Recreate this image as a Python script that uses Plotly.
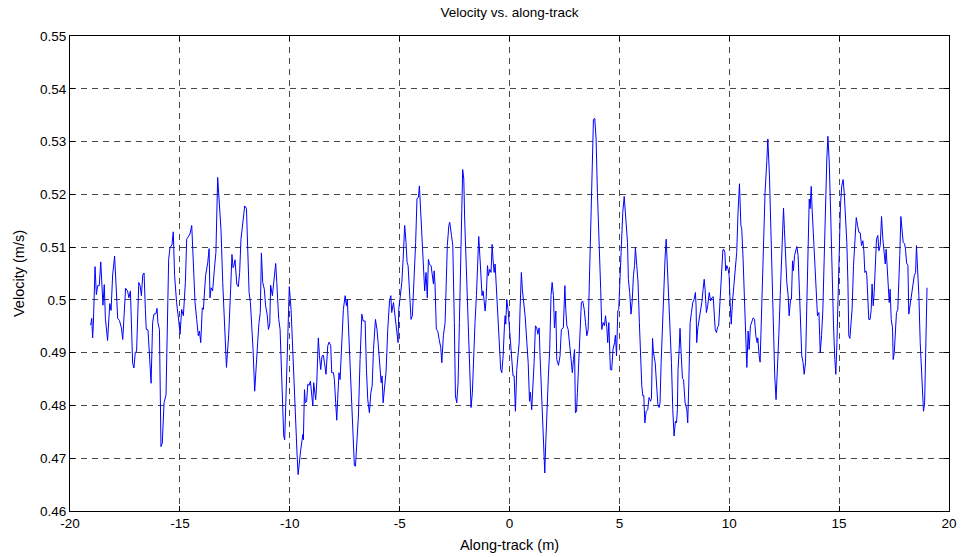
import plotly.graph_objects as go

# Along-track position (m)
distance = [
    -19.06, -19.01, -18.97, -18.94, -18.86, -18.80, -18.74, -18.67, -18.60, -18.56,
    -18.50, -18.44, -18.39, -18.29, -18.19, -18.13, -18.06, -17.97, -17.91, -17.83,
    -17.75, -17.66, -17.60, -17.47, -17.38, -17.32, -17.25, -17.15, -17.09, -17.03,
    -16.97, -16.87, -16.81, -16.75, -16.69, -16.63, -16.57, -16.53, -16.45, -16.39,
    -16.31, -16.24, -16.18, -16.09, -16.04, -16.00, -15.93, -15.86, -15.80, -15.72,
    -15.63, -15.51, -15.45, -15.36, -15.30, -15.24, -15.15, -15.05, -14.99, -14.92,
    -14.84, -14.75, -14.69,
    -14.645, -14.54, -14.46, -14.39, -14.31, -14.235, -14.16, -14.11, -14.05, -13.98,
    -13.93, -13.83, -13.73, -13.67, -13.63, -13.58, -13.51, -13.43, -13.36, -13.28,
    -13.20, -13.13, -13.05, -12.975, -12.93, -12.88, -12.84, -12.78, -12.69, -12.63,
    -12.58, -12.54, -12.49, -12.41, -12.34, -12.28, -12.22, -12.16, -12.10, -12.05,
    -11.97, -11.91, -11.85, -11.79, -11.73, -11.67, -11.595, -11.53, -11.46, -11.40,
    -11.34, -11.29, -11.23, -11.155, -11.10, -11.03, -10.97, -10.91, -10.87, -10.79,
    -10.73, -10.70, -10.64, -10.59, -10.50, -10.44, -10.34, -10.275, -10.23, -10.155,
    -10.08, -10.02, -9.94, -9.85, -9.76,
    -9.71, -9.67, -9.62, -9.56, -9.50, -9.44, -9.41, -9.38, -9.33, -9.29,
    -9.23, -9.18, -9.12, -9.06, -9.00, -8.95, -8.91, -8.86, -8.82, -8.77,
    -8.70, -8.65, -8.59, -8.53, -8.47, -8.42, -8.35, -8.27, -8.21, -8.135,
    -8.09, -8.01, -7.97, -7.91, -7.86, -7.82, -7.76, -7.71, -7.63, -7.56,
    -7.48, -7.42, -7.38, -7.32, -7.255, -7.18, -7.10, -7.06, -7.01, -6.95,
    -6.875, -6.80, -6.72, -6.66, -6.57, -6.51, -6.45, -6.375, -6.31, -6.25,
    -6.19, -6.10, -6.03, -5.98, -5.90, -5.84, -5.80, -5.75, -5.68, -5.62,
    -5.54, -5.46, -5.40, -5.36, -5.28, -5.21, -5.13, -5.07, -5.04, -4.98,
    -4.90, -4.84, -4.77, -4.71, -4.66, -4.615, -4.55, -4.48, -4.42, -4.36,
    -4.27, -4.21, -4.145, -4.10, -4.04, -3.98, -3.90, -3.86, -3.80, -3.74,
    -3.69, -3.64, -3.57, -3.51, -3.46, -3.43, -3.39, -3.33, -3.265, -3.20,
    -3.13, -3.08, -3.01, -2.93, -2.89, -2.83, -2.76, -2.72, -2.64, -2.58,
    -2.51, -2.46, -2.40, -2.34, -2.28, -2.22, -2.17, -2.13, -2.08, -2.04,
    -1.975, -1.915, -1.85, -1.79, -1.75, -1.69, -1.64, -1.57, -1.505, -1.44,
    -1.40, -1.34, -1.29, -1.25, -1.20, -1.16, -1.11, -1.065, -1.00, -0.96,
    -0.90, -0.84, -0.79, -0.75, -0.70, -0.655, -0.58, -0.52, -0.46, -0.40,
    -0.35, -0.29, -0.23, -0.20,
    -0.17, -0.125, -0.06, 0.00, 0.04, 0.10, 0.16, 0.21, 0.27, 0.33,
    0.38, 0.44, 0.48, 0.54, 0.59, 0.65, 0.71, 0.79, 0.85, 0.91,
    0.95, 1.01, 1.06, 1.12, 1.18, 1.24, 1.29, 1.35, 1.39, 1.45,
    1.50, 1.56, 1.605, 1.65, 1.71, 1.77, 1.83, 1.89, 1.94, 2.00,
    2.045, 2.11, 2.15, 2.23, 2.30, 2.36, 2.45, 2.52, 2.56, 2.61,
    2.67, 2.73, 2.80, 2.86, 2.91, 2.96, 3.00, 3.05, 3.09, 3.15,
    3.21, 3.27, 3.33, 3.40, 3.46, 3.52, 3.58, 3.64, 3.70, 3.76,
    3.82, 3.88, 3.94, 4.00, 4.06, 4.11, 4.15, 4.20, 4.26, 4.32,
    4.37, 4.43, 4.47, 4.52, 4.56,
    4.59, 4.65, 4.71, 4.78, 4.82, 4.87, 4.93, 4.97, 5.02, 5.06,
    5.11, 5.155, 5.22, 5.26, 5.31, 5.37, 5.41, 5.47, 5.53, 5.58,
    5.64, 5.69, 5.73, 5.79, 5.85, 5.91, 5.97, 6.02, 6.07, 6.11,
    6.16, 6.22, 6.29, 6.35, 6.42, 6.46, 6.51, 6.55, 6.63, 6.70,
    6.75, 6.81, 6.85, 6.90, 6.96, 7.02, 7.08, 7.13, 7.19, 7.25,
    7.31, 7.37, 7.43, 7.49, 7.55, 7.60, 7.64, 7.67, 7.72, 7.76,
    7.81, 7.87, 7.92, 7.99, 8.07, 8.11, 8.16, 8.22, 8.28, 8.34,
    8.40, 8.46, 8.49, 8.52, 8.57, 8.63, 8.69, 8.75, 8.81, 8.86,
    8.90, 8.96, 9.02, 9.09, 9.15, 9.21, 9.27, 9.36,
    9.42, 9.46, 9.52, 9.585, 9.66, 9.71, 9.75, 9.80, 9.84, 9.89,
    9.95, 9.995, 10.04, 10.09, 10.15, 10.21, 10.27, 10.34, 10.40, 10.465,
    10.53, 10.57, 10.63, 10.69, 10.75, 10.80, 10.86, 10.905, 10.965, 11.03,
    11.09, 11.15, 11.21, 11.27, 11.30, 11.36, 11.405, 11.45, 11.51, 11.57,
    11.63, 11.71, 11.755, 11.83, 11.89, 11.95, 12.01, 12.07, 12.13, 12.195,
    12.255, 12.32, 12.38, 12.42, 12.47, 12.51, 12.56, 12.62, 12.68, 12.725,
    12.79, 12.83, 12.88, 12.92, 12.97, 13.01, 13.075, 13.135, 13.20, 13.26,
    13.30, 13.36, 13.41, 13.47, 13.53, 13.59, 13.64, 13.68, 13.73, 13.77,
    13.83, 13.89, 13.955, 14.015, 14.08, 14.14,
    14.20, 14.26, 14.32, 14.38, 14.44, 14.49, 14.55, 14.61, 14.67, 14.745,
    14.805, 14.85, 14.90, 14.96, 15.00, 15.06, 15.12, 15.18, 15.23, 15.275,
    15.35, 15.40, 15.44, 15.49, 15.53, 15.59, 15.655, 15.715, 15.78, 15.84,
    15.90, 15.96, 16.02, 16.08, 16.125, 16.17, 16.22, 16.26, 16.31, 16.35,
    16.41, 16.46, 16.50, 16.55, 16.595, 16.64, 16.70, 16.76, 16.81, 16.87,
    16.93, 16.99, 17.05, 17.10, 17.14, 17.19, 17.23, 17.28, 17.32, 17.37,
    17.43, 17.46, 17.51, 17.55, 17.61, 17.67, 17.72, 17.76, 17.81, 17.855,
    17.915, 17.98, 18.02, 18.07, 18.13, 18.17, 18.22, 18.28, 18.355, 18.42,
    18.48, 18.52, 18.57, 18.63, 18.69, 18.75, 18.80, 18.84, 18.89, 18.95,
    19.00,
]

# Velocity (m/s)
velocity = [
    0.4952, 0.4965, 0.4928, 0.4951, 0.5063, 0.5010, 0.5027, 0.5027, 0.5072, 0.5027,
    0.4990, 0.5029, 0.4965, 0.4923, 0.4993, 0.4980, 0.5047, 0.5083, 0.5027, 0.4965,
    0.4961, 0.4947, 0.4925, 0.5022, 0.5017, 0.5004, 0.5017, 0.4880, 0.4871, 0.4901,
    0.4902, 0.5033, 0.5027, 0.5008, 0.5047, 0.5051, 0.4982, 0.4944, 0.4943, 0.4906,
    0.4842, 0.4957, 0.4973, 0.4974, 0.4984, 0.4957, 0.4944, 0.4722, 0.4729, 0.4805,
    0.4820, 0.5077, 0.5099, 0.5104, 0.5129, 0.5046, 0.4995, 0.4960, 0.4935, 0.4982,
    0.4970, 0.5033, 0.5115,
    0.5118, 0.5125, 0.5141, 0.5071, 0.4995, 0.4963, 0.4932, 0.4941, 0.4919, 0.4985,
    0.4982, 0.5046, 0.5071, 0.5097, 0.5004, 0.5023, 0.5017, 0.5058, 0.5090, 0.5232,
    0.5185, 0.5134, 0.5033, 0.4957, 0.4900, 0.4872, 0.4897, 0.4932, 0.5020, 0.5086,
    0.5061, 0.5065, 0.5076, 0.5030, 0.5025, 0.5052, 0.5115, 0.5134, 0.5161, 0.5178,
    0.5173, 0.5084, 0.5014, 0.4995, 0.4957, 0.4906, 0.4827, 0.4881, 0.4919, 0.4957,
    0.4976, 0.5089, 0.5033, 0.5020, 0.4989, 0.4973, 0.4944, 0.4954, 0.5028, 0.5008,
    0.5039, 0.5042, 0.5069, 0.5033, 0.4963, 0.4944, 0.4792, 0.4742, 0.4735, 0.4849,
    0.4970, 0.5025, 0.4982, 0.4881, 0.4805,
    0.4742, 0.4710, 0.4669, 0.4697, 0.4716, 0.4734, 0.4745, 0.4735, 0.4830, 0.4805,
    0.4808, 0.4840, 0.4838, 0.4846, 0.4818, 0.4799, 0.4843, 0.4830, 0.4811, 0.4843,
    0.4928, 0.4895, 0.4868, 0.4894, 0.4895, 0.4881, 0.4859, 0.4913, 0.4920, 0.4913,
    0.4862, 0.4862, 0.4849, 0.4805, 0.4772, 0.4811, 0.4862, 0.4849, 0.4932, 0.4982,
    0.5008, 0.4989, 0.5001, 0.4944, 0.4881, 0.4792, 0.4723, 0.4686, 0.4685, 0.4729,
    0.4780, 0.4887, 0.4973, 0.4960, 0.4960, 0.4868, 0.4811, 0.4786, 0.4824, 0.4837,
    0.4906, 0.4963, 0.4944, 0.4919, 0.4868, 0.4843, 0.4856, 0.4805, 0.4837, 0.4862,
    0.4944, 0.4998, 0.5008, 0.4976, 0.4995, 0.4966, 0.4932, 0.4919, 0.4982, 0.5004,
    0.5033, 0.5077, 0.5141, 0.5109, 0.5071, 0.5065, 0.5008, 0.4963, 0.4970, 0.5020,
    0.5109, 0.5192, 0.5194, 0.5216, 0.5160, 0.5103, 0.5033, 0.5017, 0.5052, 0.5004,
    0.5077, 0.5067, 0.5065, 0.5046, 0.5030, 0.5055, 0.5030, 0.4944, 0.4941, 0.4925,
    0.4910, 0.4881, 0.4932, 0.4957, 0.5008, 0.5103, 0.5141, 0.5147, 0.5122, 0.5103,
    0.4957, 0.4818, 0.4805, 0.4843, 0.4957, 0.5122, 0.5172, 0.5247, 0.5229, 0.5153,
    0.5077, 0.4995, 0.4919, 0.4856, 0.4796, 0.4824, 0.4887, 0.4957, 0.5008, 0.5084,
    0.5120, 0.5077, 0.5023, 0.5008, 0.5017, 0.4995, 0.4979, 0.5001, 0.5065, 0.5046,
    0.5058, 0.5052, 0.5105, 0.5077, 0.5052, 0.5068, 0.5008, 0.4957, 0.4906, 0.4868,
    0.4862, 0.4894, 0.4951, 0.4970,
    0.4954, 0.5001, 0.4979, 0.4944, 0.4919, 0.4881, 0.4856, 0.4856, 0.4789, 0.4868,
    0.4891, 0.4919, 0.4982, 0.5052, 0.5017, 0.4998, 0.4970, 0.4919, 0.4881, 0.4808,
    0.4825, 0.4792, 0.4825, 0.4881, 0.4951, 0.4947, 0.4935, 0.4947, 0.4894, 0.4830,
    0.4761, 0.4697, 0.4672, 0.4729, 0.4805, 0.4856, 0.4906, 0.5008, 0.5033, 0.5008,
    0.4947, 0.4979, 0.4887, 0.4876, 0.4894, 0.4944, 0.4947, 0.5027, 0.4982, 0.4951,
    0.4944, 0.4913, 0.4881, 0.4862, 0.4887, 0.4906, 0.4786, 0.4789, 0.4824, 0.4894,
    0.4957, 0.4995, 0.4998, 0.4982, 0.4957, 0.4932, 0.4944, 0.5046, 0.5185, 0.5286,
    0.5342, 0.5344, 0.5305, 0.5204, 0.5109, 0.5039, 0.5020, 0.4944, 0.4957, 0.4951,
    0.4970, 0.4947, 0.4919, 0.4957, 0.4919,
    0.4868, 0.4867, 0.4906, 0.4919, 0.4933, 0.4894, 0.4979, 0.4982, 0.5033, 0.5071,
    0.5122, 0.5166, 0.5196, 0.5172, 0.5160, 0.5109, 0.5039, 0.5014, 0.4973, 0.4995,
    0.5046, 0.5065, 0.5099, 0.5065, 0.5033, 0.4957, 0.4881, 0.4837, 0.4818, 0.4819,
    0.4767, 0.4789, 0.4792, 0.4815, 0.4808, 0.4813, 0.4927, 0.4900, 0.4881, 0.4837,
    0.4802, 0.4796, 0.4805, 0.4881, 0.4963, 0.5033, 0.5080, 0.5115, 0.5058, 0.5008,
    0.4957, 0.4881, 0.4792, 0.4742, 0.4770, 0.4767, 0.4792, 0.4868, 0.4906, 0.4946,
    0.4900, 0.4851, 0.4849, 0.4805, 0.4792, 0.4767, 0.4843, 0.4957, 0.4976, 0.4995,
    0.5001, 0.5014, 0.4989, 0.4919, 0.4947, 0.4962, 0.4976, 0.4995, 0.5020, 0.5039,
    0.5020, 0.4976, 0.4989, 0.5014, 0.4998, 0.5004, 0.5006, 0.4944,
    0.4938, 0.4947, 0.4952, 0.5008, 0.5065, 0.5095, 0.5096, 0.5090, 0.5055, 0.5065,
    0.5058, 0.5046, 0.4995, 0.4954, 0.4998, 0.5027, 0.5058, 0.5090, 0.5166, 0.5220,
    0.5141, 0.5134, 0.5077, 0.5008, 0.4951, 0.4872, 0.4941, 0.4906, 0.4951, 0.4957,
    0.4966, 0.4963, 0.4932, 0.4919, 0.4928, 0.4894, 0.4882, 0.4947, 0.5046, 0.5122,
    0.5204, 0.5264, 0.5305, 0.5235, 0.5134, 0.5046, 0.4919, 0.4856, 0.4811, 0.4868,
    0.4932, 0.5008, 0.5071, 0.5090, 0.5174, 0.5134, 0.5071, 0.5033, 0.5008, 0.4970,
    0.5001, 0.5001, 0.5074, 0.5055, 0.5084, 0.5090, 0.5101, 0.5084, 0.5014, 0.4970,
    0.4894, 0.4881, 0.4859, 0.4881, 0.5008, 0.5109, 0.5191, 0.5173, 0.5215, 0.5172,
    0.5122, 0.5071, 0.5008, 0.4970, 0.4976, 0.4900,
    0.4932, 0.4982, 0.5077, 0.5204, 0.5267, 0.5310, 0.5261, 0.5172, 0.5058, 0.4951,
    0.4887, 0.4859, 0.4919, 0.5014, 0.5109, 0.5178, 0.5216, 0.5228, 0.5204, 0.5172,
    0.5109, 0.5033, 0.4932, 0.4927, 0.4951, 0.4982, 0.5065, 0.5122, 0.5156, 0.5141,
    0.5128, 0.5127, 0.5103, 0.5112, 0.5093, 0.5052, 0.5055, 0.5046, 0.5008, 0.4963,
    0.4963, 0.4982, 0.5030, 0.4989, 0.5014, 0.5058, 0.5115, 0.5122, 0.5093, 0.5103,
    0.5158, 0.5115, 0.5090, 0.5068, 0.5096, 0.5058, 0.5008, 0.4995, 0.5020, 0.4963,
    0.4947, 0.4887, 0.4900, 0.4932, 0.4976, 0.4982, 0.5071, 0.5084, 0.5158, 0.5134,
    0.5109, 0.5106, 0.5096, 0.5070, 0.5065, 0.4973, 0.4989, 0.5008, 0.5033, 0.5046,
    0.5052, 0.5103, 0.5058, 0.5008, 0.4919, 0.4856, 0.4805, 0.4789, 0.4805, 0.4932,
    0.5023,
]

x_ticks = [-20, -15, -10, -5, 0, 5, 10, 15, 20]
x_tick_labels = ["-20", "-15", "-10", "-5", "0", "5", "10", "15", "20"]
y_ticks = [0.46, 0.47, 0.48, 0.49, 0.50, 0.51, 0.52, 0.53, 0.54, 0.55]
y_tick_labels = ["0.46", "0.47", "0.48", "0.49", "0.5", "0.51", "0.52", "0.53", "0.54", "0.55"]

n = min(len(distance), len(velocity))

fig = go.Figure()
fig.add_trace(go.Scatter(
    x=distance[:n], y=velocity[:n], mode="lines",
    line=dict(color="#0000ff", width=1), showlegend=False,
))

font_family = "Liberation Sans, Arial, Helvetica, sans-serif"
axis_common = dict(
    automargin=False,
    showline=True, linecolor="black", linewidth=1, mirror="allticks",
    ticks="inside", ticklen=5, tickcolor="black", tickwidth=1,
    showgrid=True, gridcolor="rgba(40,40,40,0.85)", gridwidth=1, griddash="6px,5px",
    zeroline=False, tickfont=dict(size=13.5, color="black", family=font_family),
)

fig.update_layout(
    width=963, height=557,
    margin=dict(l=70, r=14, t=36, b=46),
    paper_bgcolor="white", plot_bgcolor="white",
    font=dict(family=font_family, color="black", size=13),
    title=dict(text="Velocity vs. along-track", x=0.5, xref="paper", xanchor="center",
               y=1 - 12 / 557, yref="container", yanchor="middle",
               font=dict(size=13.5, color="black", family=font_family)),
    xaxis=dict(range=[-20, 20], tickvals=x_ticks, ticktext=x_tick_labels,
               title=dict(text="Along-track (m)", standoff=9,
                          font=dict(size=14.5, color="black", family=font_family)),
               **axis_common),
    yaxis=dict(range=[0.46, 0.55], tickvals=y_ticks, ticktext=y_tick_labels,
               title=dict(text="Velocity (m/s)", standoff=11,
                          font=dict(size=14.5, color="black", family=font_family)),
               **axis_common),
)

fig.write_html("out.html", config={"displayModeBar": False},
               post_script="document.body.style.margin='0px';")
